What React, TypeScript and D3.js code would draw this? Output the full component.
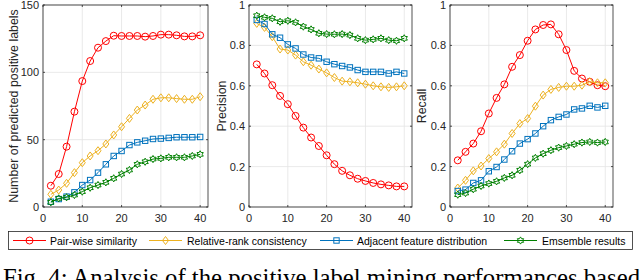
import React from 'react';
import * as d3 from 'd3';

// x positions shared by every curve
const xs = [2, 4, 6, 8, 10, 12, 14, 16, 18, 20, 22, 24, 26, 28, 30, 32, 34, 36, 38, 40];

const seriesNames = ['Pair-wise similarity', 'Relative-rank consistency', 'Adjacent feature distribution', 'Emsemble results'];
const seriesColors = ['#ff0000', '#edb120', '#0072bd', '#008000'];
const seriesMarkers = ['circle', 'diamond', 'square', 'hexagram'];

// number of predicted positive labels
const countPair = [15.8, 24.5, 44.8, 70.8, 93.5, 108.4, 118.3, 123.2, 127.2, 127, 127, 127, 126.5, 127, 128, 128, 127.5, 126.7, 126.7, 127.5];
const countRank = [9.4, 12.6, 17.6, 25.5, 32.9, 37.9, 41.8, 46.8, 53.5, 59.6, 65.8, 72, 75.7, 80, 81.1, 81.1, 80.5, 80, 80, 81.9];
const countAdj = [3.9, 5.9, 7.7, 10.9, 16.3, 20, 25.5, 31.7, 37.9, 41.6, 46, 48, 49.2, 50.5, 50.8, 51.3, 51.8, 51.8, 51.8, 52];
const countEns = [3.5, 6.4, 7.2, 8.9, 11.4, 14.3, 16.3, 18.3, 21.3, 24.5, 27.5, 31.7, 33.6, 35.6, 36.1, 36.9, 36.9, 36.9, 37.9, 39.1];

// precision
const precPair = [0.706, 0.661, 0.603, 0.55, 0.509, 0.451, 0.393, 0.344, 0.302, 0.256, 0.212, 0.179, 0.157, 0.14, 0.129, 0.119, 0.112, 0.107, 0.102, 0.102];
const precRank = [0.909, 0.889, 0.843, 0.782, 0.777, 0.752, 0.719, 0.702, 0.683, 0.664, 0.641, 0.623, 0.62, 0.615, 0.608, 0.6, 0.595, 0.592, 0.595, 0.6];
const precAdj = [0.926, 0.906, 0.855, 0.838, 0.805, 0.785, 0.755, 0.74, 0.736, 0.719, 0.707, 0.698, 0.691, 0.678, 0.669, 0.669, 0.669, 0.661, 0.669, 0.661];
const precEns = [0.947, 0.939, 0.934, 0.917, 0.922, 0.914, 0.893, 0.879, 0.86, 0.856, 0.855, 0.856, 0.851, 0.835, 0.826, 0.83, 0.835, 0.826, 0.823, 0.835];

// recall
const recPair = [0.231, 0.273, 0.314, 0.375, 0.463, 0.54, 0.607, 0.694, 0.752, 0.823, 0.879, 0.901, 0.904, 0.855, 0.777, 0.674, 0.636, 0.62, 0.603, 0.598];
const recRank = [0.094, 0.132, 0.179, 0.203, 0.24, 0.273, 0.311, 0.364, 0.413, 0.438, 0.499, 0.554, 0.582, 0.592, 0.598, 0.598, 0.603, 0.62, 0.615, 0.615];
const recAdj = [0.079, 0.086, 0.119, 0.132, 0.177, 0.198, 0.235, 0.276, 0.314, 0.336, 0.364, 0.4, 0.43, 0.446, 0.458, 0.483, 0.488, 0.501, 0.493, 0.501];
const recEns = [0.061, 0.069, 0.088, 0.104, 0.116, 0.127, 0.144, 0.157, 0.182, 0.212, 0.243, 0.264, 0.281, 0.294, 0.302, 0.311, 0.319, 0.322, 0.319, 0.322];

const xTicks = [0, 10, 20, 30, 40];
const countTicks = [0, 50, 100, 150];
const rateTicks = [0, 0.2, 0.4, 0.6, 0.8, 1];

const caption = 'Fig. 4: Analysis of the positive label mining performances based';

const AX = '#262626';
const FONT = '"Liberation Sans", Arial, Helvetica, sans-serif';

function hexagram(r: number) {
  const pts: string[] = [];
  for (let i = 0; i < 12; i++) {
    const a = -Math.PI / 2 + (i * Math.PI) / 6;
    const rr = i % 2 === 0 ? r : r * 0.577;
    pts.push(`${(rr * Math.cos(a)).toFixed(2)},${(rr * Math.sin(a)).toFixed(2)}`);
  }
  return 'M' + pts.join('L') + 'Z';
}

function Marker({ kind, x, y, color }: { kind: string; x: number; y: number; color: string }) {
  const common = { fill: 'none', stroke: color, strokeWidth: 1 };
  if (kind === 'circle') return <circle cx={x} cy={y} r={3.5} {...common} />;
  if (kind === 'diamond')
    return <path d={`M${x},${y - 4}L${x + 3},${y}L${x},${y + 4}L${x - 3},${y}Z`} {...common} />;
  if (kind === 'square') return <rect x={x - 2.7} y={y - 2.7} width={5.4} height={5.4} {...common} />;
  return <path transform={`translate(${x},${y})`} d={hexagram(3.6)} {...common} />;
}

function Panel({
  left, right, top, bottom, yMax, yTicks, data, label, labelX,
}: {
  left: number; right: number; top: number; bottom: number; yMax: number;
  yTicks: number[]; data: number[][]; label: string; labelX: number;
}) {
  const x = d3.scaleLinear().domain([0, 42]).range([left, right]);
  const y = d3.scaleLinear().domain([0, yMax]).range([bottom, top]);
  const line = d3.line<number>().x((_, i) => x(xs[i])).y((d) => y(d));
  const tl = 2;
  return (
    <g>
      <rect x={left} y={top} width={right - left} height={bottom - top} fill="#fff" />
      {xTicks.map((t) => (
        <line key={'gx' + t} x1={x(t)} x2={x(t)} y1={top} y2={bottom} stroke="#e3e3e3" strokeWidth={0.8} />
      ))}
      {yTicks.map((t) => (
        <line key={'gy' + t} x1={left} x2={right} y1={y(t)} y2={y(t)} stroke="#e3e3e3" strokeWidth={0.8} />
      ))}
      {data.map((vals, si) => (
        <g key={si}>
          <path d={line(vals) || ''} fill="none" stroke={seriesColors[si]} strokeWidth={1} />
          {vals.map((v, i) => (
            <Marker key={i} kind={seriesMarkers[si]} x={x(xs[i])} y={y(v)} color={seriesColors[si]} />
          ))}
        </g>
      ))}
      <rect x={left} y={top} width={right - left} height={bottom - top} fill="none" stroke={AX} strokeWidth={0.8} />
      {xTicks.map((t) => (
        <g key={'tx' + t}>
          <line x1={x(t)} x2={x(t)} y1={bottom} y2={bottom - tl} stroke={AX} strokeWidth={0.8} />
          <line x1={x(t)} x2={x(t)} y1={top} y2={top + tl} stroke={AX} strokeWidth={0.8} />
          <text x={x(t)} y={bottom + 15} textAnchor="middle" fontSize={11} fill={AX} fontFamily={FONT}>{t}</text>
        </g>
      ))}
      {yTicks.map((t) => (
        <g key={'ty' + t}>
          <line x1={left} x2={left + tl} y1={y(t)} y2={y(t)} stroke={AX} strokeWidth={0.8} />
          <line x1={right} x2={right - tl} y1={y(t)} y2={y(t)} stroke={AX} strokeWidth={0.8} />
          <text x={left - 4} y={y(t) + 4} textAnchor="end" fontSize={11} fill={AX} fontFamily={FONT}>{t}</text>
        </g>
      ))}
      <text
        transform={`translate(${labelX},${(top + bottom) / 2}) rotate(-90)`}
        textAnchor="middle" fontSize={12.4} fill={AX} fontFamily={FONT}
      >{label}</text>
    </g>
  );
}

const legendItems = [
  { lx: 13, tx: 50 },
  { lx: 149, tx: 187 },
  { lx: 320, tx: 357 },
  { lx: 504, tx: 542 },
];

export default function App() {
  return (
    <svg width={640} height={280} style={{ position: 'absolute', left: 0, top: 0, background: '#fff' }}>
      <rect width={640} height={280} fill="#fff" />
      <Panel left={43} right={208} top={5} bottom={207} yMax={150} yTicks={countTicks}
        data={[countPair, countRank, countAdj, countEns]} label="Number of predicted positive labels" labelX={17.5} />
      <Panel left={249} right={412} top={5} bottom={207} yMax={1} yTicks={rateTicks}
        data={[precPair, precRank, precAdj, precEns]} label="Precision" labelX={225.5} />
      <Panel left={450} right={613} top={5} bottom={207} yMax={1} yTicks={rateTicks}
        data={[recPair, recRank, recAdj, recEns]} label="Recall" labelX={425.5} />
      <rect x={8.5} y={231.5} width={624} height={18} fill="#fff" stroke={AX} strokeWidth={0.8} />
      {seriesNames.map((n, i) => {
        const it = legendItems[i];
        return (
          <g key={n}>
            <line x1={it.lx} x2={it.lx + 33} y1={240.5} y2={240.5} stroke={seriesColors[i]} strokeWidth={1} />
            <Marker kind={seriesMarkers[i]} x={it.lx + 16.5} y={240.5} color={seriesColors[i]} />
            <text x={it.tx} y={244.5} fontSize={10.5} fill="#000" fontFamily={FONT}>{n}</text>
          </g>
        );
      })}
      <text x={3} y={285.5} fontSize={24.5} fontFamily='"Liberation Serif", "Times New Roman", serif' fill="#000"
        textLength={637} lengthAdjust="spacingAndGlyphs">{caption}</text>
    </svg>
  );
}
